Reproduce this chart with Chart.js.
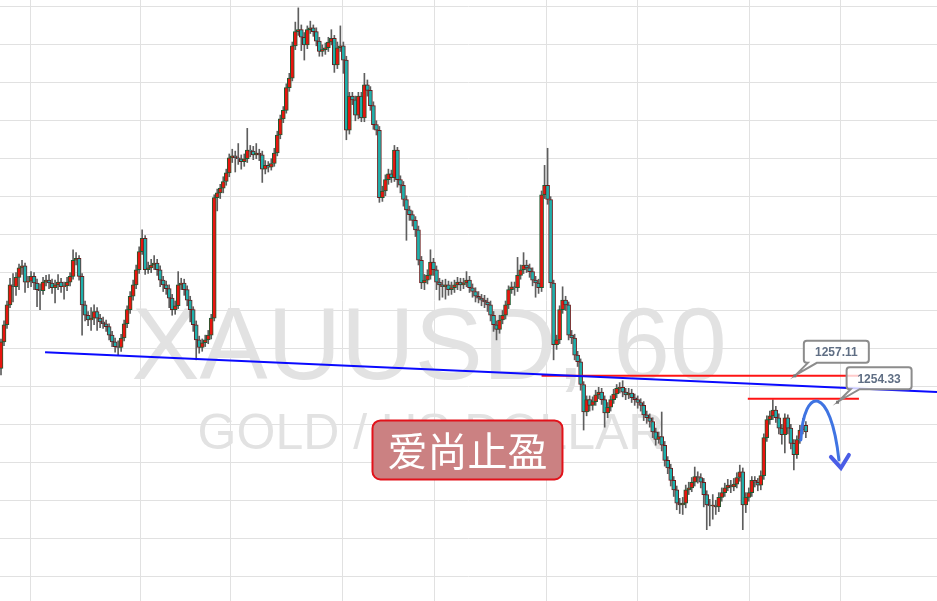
<!DOCTYPE html>
<html><head><meta charset="utf-8">
<script src="https://cdn.jsdelivr.net/npm/chart.js@4.4.1/dist/chart.umd.min.js"></script>
<style>html,body{margin:0;padding:0;background:#fff;}#c{display:block;}</style>
</head><body>
<canvas id="c" width="937" height="601"></canvas>
<script>
// XAUUSD 60-minute candles (price, USD)
const opens = [
1257.9,1260.7,1262.5,1264.6,1266.7,1266.5,1267.5,1268.5,1268.7,1267.0,
1267.1,1267.6,1266.9,1266.2,1266.1,1267.0,1267.2,1266.9,1266.4,1266.7,
1267.0,1266.5,1266.6,1267.0,1267.6,1269.3,1269.5,1267.6,1264.6,1263.5,
1263.0,1263.2,1263.9,1263.2,1262.8,1262.6,1262.3,1261.4,1260.7,1260.2,
1260.1,1261.1,1262.6,1264.1,1265.5,1266.7,1268.3,1270.2,1271.6,1268.3,
1268.5,1268.8,1269.0,1268.3,1267.2,1266.7,1266.3,1265.3,1264.1,1264.5,
1266.7,1266.9,1266.2,1265.1,1264.1,1262.5,1260.9,1260.1,1260.6,1260.9,
1261.4,1263.2,1275.9,1276.4,1276.9,1277.6,1278.5,1280.1,1280.3,1280.1,
1280.0,1279.7,1280.0,1280.9,1280.8,1280.4,1280.6,1280.4,1278.9,1279.3,
1279.1,1279.5,1280.6,1282.5,1284.2,1285.1,1287.5,1288.5,1291.9,1293.4,
1293.6,1292.8,1292.0,1293.6,1293.8,1293.4,1292.4,1291.3,1291.5,1291.7,
1292.3,1292.7,1289.9,1291.7,1291.9,1290.4,1283.0,1286.6,1286.2,1284.6,
1286.6,1284.3,1287.8,1287.2,1285.6,1283.6,1283.0,1275.9,1276.6,1277.8,
1278.4,1278.0,1280.9,1277.8,1277.2,1275.7,1274.6,1274.1,1273.5,1272.5,
1269.3,1266.9,1267.2,1267.7,1269.1,1268.3,1267.0,1266.7,1266.5,1266.7,
1266.2,1266.4,1266.7,1267.0,1266.7,1266.9,1267.2,1266.4,1266.0,1265.5,
1265.3,1265.1,1264.9,1264.6,1263.5,1262.5,1262.0,1263.0,1263.5,1264.6,
1266.2,1266.5,1266.4,1267.7,1268.3,1268.8,1268.5,1268.1,1267.2,1266.9,
1266.4,1276.2,1277.2,1275.7,1266.9,1260.4,1260.9,1264.1,1265.1,1264.6,
1261.4,1261.1,1259.3,1258.6,1256.2,1253.3,1254.6,1254.0,1254.4,1255.1,
1255.4,1254.6,1253.2,1253.8,1254.6,1255.2,1255.8,1255.9,1255.4,1255.1,
1255.3,1254.8,1254.6,1254.3,1254.0,1253.0,1252.7,1252.3,1251.2,1250.4,
1250.7,1249.8,1248.2,1247.4,1246.1,1245.1,1243.7,1243.5,1243.7,1245.1,
1245.3,1245.9,1246.5,1246.4,1245.9,1244.6,1243.5,1243.4,1243.5,1243.3,
1244.3,1244.8,1245.3,1245.6,1245.4,1245.7,1246.4,1247.0,1243.5,1244.3,
1244.8,1246.1,1245.9,1245.6,1246.6,1250.6,1252.5,1252.9,1253.5,1252.7,
1251.6,1250.9,1252.7,1251.6,1250.0,1248.8,1250.4,1251.4,1251.9];
const highs = [
1261.0,1262.9,1265.0,1267.4,1267.9,1268.0,1268.9,1269.3,1269.0,1267.6,
1268.1,1268.0,1267.3,1266.8,1267.5,1267.7,1267.8,1267.3,1267.2,1267.8,
1267.4,1267.0,1267.5,1268.0,1270.4,1270.1,1269.8,1267.9,1265.0,1263.9,
1264.3,1264.6,1264.3,1263.6,1263.3,1263.0,1262.6,1261.8,1261.1,1260.8,
1261.5,1263.0,1264.5,1266.0,1267.2,1268.8,1270.7,1272.5,1271.9,1269.1,
1269.4,1269.8,1269.4,1268.7,1267.6,1267.1,1266.7,1265.7,1265.0,1268.1,
1267.4,1267.3,1266.6,1265.5,1264.4,1262.9,1261.3,1261.0,1261.4,1261.9,
1263.6,1276.2,1276.8,1277.3,1278.1,1278.9,1280.5,1281.0,1280.8,1281.6,
1280.4,1280.5,1283.2,1281.4,1281.3,1281.6,1281.0,1280.8,1279.8,1279.7,
1280.0,1281.1,1282.9,1284.6,1285.5,1287.9,1289.0,1292.3,1294.4,1295.9,
1294.1,1293.3,1294.0,1294.5,1294.1,1293.8,1292.8,1292.0,1292.2,1292.8,
1293.6,1293.0,1292.3,1294.0,1292.3,1290.8,1287.0,1287.0,1286.6,1287.0,
1287.0,1289.0,1288.3,1287.6,1286.0,1284.0,1283.4,1277.1,1278.3,1278.9,
1278.8,1281.4,1281.2,1278.2,1277.6,1276.1,1275.0,1274.5,1273.9,1272.9,
1269.7,1267.8,1268.3,1270.4,1269.5,1268.7,1267.4,1267.2,1267.3,1267.1,
1267.0,1267.2,1267.5,1267.4,1267.4,1268.1,1267.6,1266.8,1266.4,1266.0,
1265.7,1265.6,1265.3,1265.0,1263.9,1262.9,1263.5,1264.0,1265.0,1266.6,
1267.0,1267.0,1269.6,1268.8,1270.1,1269.3,1268.9,1268.5,1267.6,1267.3,
1276.6,1279.3,1281.1,1276.0,1267.2,1261.4,1264.5,1266.5,1265.5,1264.9,
1261.9,1261.5,1259.7,1258.9,1256.5,1255.0,1255.0,1254.9,1255.6,1255.9,
1255.8,1255.0,1254.3,1255.0,1255.7,1256.2,1256.4,1256.6,1255.8,1255.8,
1255.7,1255.2,1255.0,1254.7,1254.4,1253.4,1253.1,1252.7,1251.6,1251.2,
1253.3,1250.2,1248.6,1247.8,1246.5,1245.5,1244.2,1244.3,1245.6,1245.9,
1246.4,1247.5,1247.0,1246.8,1246.3,1245.0,1244.1,1244.6,1244.0,1244.8,
1245.3,1245.8,1246.2,1246.1,1246.3,1246.9,1247.7,1247.4,1244.8,1245.3,
1246.5,1246.5,1246.3,1247.1,1251.0,1252.9,1253.4,1254.6,1253.9,1253.1,
1252.0,1253.1,1253.0,1252.0,1250.4,1250.8,1251.9,1252.6,1252.3];
const lows = [
1257.2,1260.3,1262.1,1264.3,1264.9,1265.6,1266.2,1267.8,1265.9,1266.4,
1266.5,1266.2,1264.4,1264.1,1265.7,1266.6,1266.3,1265.8,1264.8,1266.2,
1265.9,1265.2,1266.1,1266.6,1267.3,1268.8,1267.2,1261.4,1262.9,1262.4,
1261.9,1262.5,1261.9,1262.2,1262.1,1261.8,1260.9,1260.2,1259.6,1259.3,
1259.7,1260.8,1262.2,1263.7,1265.1,1266.3,1267.9,1269.9,1267.8,1267.9,
1268.0,1268.3,1267.7,1266.5,1266.0,1265.7,1264.3,1263.5,1263.6,1264.2,
1266.2,1265.6,1264.5,1262.8,1261.8,1258.8,1259.5,1259.7,1260.2,1260.5,
1261.0,1262.9,1274.5,1275.8,1276.4,1277.2,1278.1,1279.6,1278.6,1279.4,
1278.9,1279.2,1279.6,1280.2,1279.9,1280.0,1279.8,1277.5,1278.4,1278.6,
1278.8,1279.2,1280.3,1282.1,1283.8,1284.8,1287.1,1288.2,1291.5,1293.0,
1291.4,1290.4,1291.6,1293.2,1292.9,1291.9,1290.8,1290.8,1291.0,1291.3,
1292.0,1289.1,1289.5,1291.3,1289.0,1282.0,1282.6,1285.7,1284.0,1284.2,
1283.9,1283.9,1286.6,1285.1,1283.1,1282.5,1275.4,1275.5,1276.1,1277.3,
1277.5,1277.6,1277.0,1276.4,1275.0,1271.4,1273.5,1272.9,1271.8,1268.8,
1266.3,1266.2,1266.8,1267.3,1267.7,1266.2,1265.1,1265.4,1265.2,1265.6,
1265.7,1265.9,1266.2,1266.1,1266.3,1266.5,1265.9,1265.4,1264.9,1264.8,
1264.5,1264.3,1263.9,1262.9,1261.8,1260.9,1261.6,1262.6,1263.1,1264.2,
1265.8,1265.6,1266.0,1267.3,1267.9,1268.0,1267.5,1266.6,1265.4,1265.8,
1266.0,1275.8,1275.2,1266.4,1258.8,1259.9,1260.5,1263.7,1264.0,1260.9,
1260.5,1258.8,1258.1,1255.6,1251.4,1252.9,1253.4,1253.5,1254.0,1254.7,
1254.1,1251.7,1252.7,1253.4,1254.2,1254.8,1255.3,1254.9,1254.6,1254.7,
1254.3,1254.0,1253.7,1253.4,1252.4,1252.1,1251.7,1250.6,1249.8,1250.0,
1249.2,1247.6,1246.8,1245.5,1244.4,1243.0,1242.6,1242.5,1243.2,1244.6,
1244.9,1245.5,1245.8,1245.3,1243.3,1240.9,1241.3,1242.0,1242.5,1242.8,
1243.9,1244.4,1245.0,1244.8,1245.0,1245.3,1246.0,1240.9,1242.7,1243.9,
1244.4,1245.4,1245.0,1245.1,1246.2,1250.2,1252.0,1252.5,1252.2,1251.0,
1249.9,1249.0,1251.0,1249.4,1247.2,1248.4,1250.0,1251.0,1250.6];
const closes = [
1260.7,1262.5,1264.6,1266.7,1266.5,1267.5,1268.5,1268.7,1267.0,1267.1,
1267.6,1266.9,1266.2,1266.1,1267.0,1267.2,1266.9,1266.4,1266.7,1267.0,
1266.5,1266.6,1267.0,1267.6,1269.3,1269.5,1267.6,1264.6,1263.5,1263.0,
1263.2,1263.9,1263.2,1262.8,1262.6,1262.3,1261.4,1260.7,1260.2,1260.1,
1261.1,1262.6,1264.1,1265.5,1266.7,1268.3,1270.2,1271.6,1268.3,1268.5,
1268.8,1269.0,1268.3,1267.2,1266.7,1266.3,1265.3,1264.1,1264.5,1266.7,
1266.9,1266.2,1265.1,1264.1,1262.5,1260.9,1260.1,1260.6,1260.9,1261.4,
1263.2,1275.9,1276.4,1276.9,1277.6,1278.5,1280.1,1280.3,1280.1,1280.0,
1279.7,1280.0,1280.9,1280.8,1280.4,1280.6,1280.4,1278.9,1279.3,1279.1,
1279.5,1280.6,1282.5,1284.2,1285.1,1287.5,1288.5,1291.9,1293.4,1293.6,
1292.8,1292.0,1293.6,1293.8,1293.4,1292.4,1291.3,1291.5,1291.7,1292.3,
1292.7,1289.9,1291.7,1291.9,1290.4,1283.0,1286.6,1286.2,1284.6,1286.6,
1284.3,1287.8,1287.2,1285.6,1283.6,1283.0,1275.9,1276.6,1277.8,1278.4,
1278.0,1280.9,1277.8,1277.2,1275.7,1274.6,1274.1,1273.5,1272.5,1269.3,
1266.9,1267.2,1267.7,1269.1,1268.3,1267.0,1266.7,1266.5,1266.7,1266.2,
1266.4,1266.7,1267.0,1266.7,1266.9,1267.2,1266.4,1266.0,1265.5,1265.3,
1265.1,1264.9,1264.6,1263.5,1262.5,1262.0,1263.0,1263.5,1264.6,1266.2,
1266.5,1266.4,1267.7,1268.3,1268.8,1268.5,1268.1,1267.2,1266.9,1266.4,
1276.2,1277.2,1275.7,1266.9,1260.4,1260.9,1264.1,1265.1,1264.6,1261.4,
1261.1,1259.3,1258.6,1256.2,1253.3,1254.6,1254.0,1254.4,1255.1,1255.4,
1254.6,1253.2,1253.8,1254.6,1255.2,1255.8,1255.9,1255.4,1255.1,1255.3,
1254.8,1254.6,1254.3,1254.0,1253.0,1252.7,1252.3,1251.2,1250.4,1250.7,
1249.8,1248.2,1247.4,1246.1,1245.1,1243.7,1243.5,1243.7,1245.1,1245.3,
1245.9,1246.5,1246.4,1245.9,1244.6,1243.5,1243.4,1243.5,1243.3,1244.3,
1244.8,1245.3,1245.6,1245.4,1245.7,1246.4,1247.0,1243.5,1244.3,1244.8,
1246.1,1245.9,1245.6,1246.6,1250.6,1252.5,1252.9,1253.5,1252.7,1251.6,
1250.9,1252.7,1251.6,1250.0,1248.8,1250.4,1251.4,1251.9,1251.2];

// time grid positions (bar index) and price grid levels
const timeTicks = [9.67, 46.33, 76.33, 113.67, 144.33, 181.67, 212, 249.33, 279.67];
const priceTicks = [1236,1240,1244,1248,1252,1256,1260,1264,1268,1272,1276,1280,1284,1288,1292,1296];

// drawings
const trendLine = [{x:14.67, y:1259.6}, {x:311.67, y:1255.4}];
const level1 = [{x:180, y:1257.11}, {x:285.67, y:1257.11}];
const level2 = [{x:248.67, y:1254.7}, {x:285.67, y:1254.7}];
const label1 = {x:264.33, y:1257.11, text:'1257.11'};
const label2 = {x:278.57, y:1254.33, text:'1254.33'};
const arcPath = [{x:266.33,y:1250.35},{x:267.33,y:1256.15},{x:276.33,y:1256.15},{x:279,y:1248.25}];
const badge = {x:155.33, y:1249.3, text:'爱尚止盈'};
const watermarkTitle = 'XAUUSD, 60';
const watermarkSub = 'GOLD / US DOLLAR';

const idx = opens.map((_, i) => i);
const isUp = i => closes[i] >= opens[i];

const overlay = {
  id: 'overlay',
  beforeDatasetsDraw(chart) {
    const c = chart.ctx;
    c.save();
    c.fillStyle = '#e2e2e2';
    c.textAlign = 'center';
    c.textBaseline = 'alphabetic';
    c.font = '102px "Liberation Sans", Arial, sans-serif';
    c.fillText(watermarkTitle, 429, 379);
    c.font = '50px "Liberation Sans", Arial, sans-serif';
    c.fillText(watermarkSub, 431, 449);
    c.restore();
  },
  afterDatasetsDraw(chart) {
    const c = chart.ctx, xs = chart.scales.x, ys = chart.scales.y;
    const P = p => [xs.getPixelForValue(p.x), ys.getPixelForValue(p.y)];
    c.save();
    // badge
    const [bx, by] = P(badge);
    const bw = 190, bh = 59;
    c.beginPath();
    c.roundRect(bx - bw/2, by - bh/2, bw, bh, 8);
    c.fillStyle = '#cb8182';
    c.fill();
    c.lineWidth = 2;
    c.strokeStyle = '#e2121a';
    c.stroke();
    c.fillStyle = '#ffffff';
    c.font = '40px "Noto Sans CJK SC", sans-serif';
    c.textAlign = 'center';
    c.textBaseline = 'middle';
    c.fillText(badge.text, bx, by + 1);

    // price labels
    function bubble(lb) {
      const [ax, ay] = P(lb);
      const x0 = ax + 9, y0 = ay - 35, w = 65, h = 22, r = 3;
      c.beginPath();
      c.moveTo(x0 + r, y0);
      c.lineTo(x0 + w - r, y0); c.quadraticCurveTo(x0 + w, y0, x0 + w, y0 + r);
      c.lineTo(x0 + w, y0 + h - r); c.quadraticCurveTo(x0 + w, y0 + h, x0 + w - r, y0 + h);
      c.lineTo(x0 + 13, y0 + h); c.lineTo(ax + 1, ay - 1); c.lineTo(x0 + 4, y0 + h);
      c.lineTo(x0 + r, y0 + h); c.quadraticCurveTo(x0, y0 + h, x0, y0 + h - r);
      c.lineTo(x0, y0 + r); c.quadraticCurveTo(x0, y0, x0 + r, y0);
      c.closePath();
      c.fillStyle = 'rgba(255,255,255,0.78)';
      c.fill();
      c.strokeStyle = '#8c8c8c';
      c.lineWidth = 2;
      c.stroke();
      c.fillStyle = '#5f6e84';
      c.font = 'bold 12px "Liberation Sans", Arial, sans-serif';
      c.textAlign = 'center';
      c.textBaseline = 'middle';
      c.fillText(lb.text, x0 + w/2, y0 + h/2 + 1);
      c.fillStyle = '#777';
      c.fillRect(ax - 1.5, ay - 1.5, 3, 3);
    }
    bubble(label1);
    bubble(label2);

    // blue arc arrow
    const [s, c1, c2, e] = arcPath.map(P);
    c.strokeStyle = '#3f74e2';
    c.lineWidth = 3;
    c.lineCap = 'round';
    c.beginPath();
    c.moveTo(s[0], s[1]);
    c.bezierCurveTo(c1[0], c1[1], c2[0], c2[1], e[0], e[1]);
    c.stroke();
    c.strokeStyle = '#4a5de6';
    c.lineWidth = 4;
    c.lineJoin = 'miter';
    c.beginPath();
    c.moveTo(e[0] - 8, e[1] - 3);
    c.lineTo(e[0] + 2, e[1] + 8);
    c.lineTo(e[0] + 10, e[1] - 5);
    c.stroke();
    c.restore();
  }
};

const gridX = {color: '#e1e1e1', lineWidth: 1, drawTicks: false, offset: false};
const gridY = {color: '#e1e1e1', lineWidth: 1, drawTicks: false};

new Chart(document.getElementById('c'), {
  type: 'bar',
  data: {
    datasets: [
      {
        type: 'line', label: 'trend', data: trendLine, borderColor: '#0a0aff', borderWidth: 2,
        pointRadius: 0, tension: 0, order: 1
      },
      {
        type: 'line', label: 'level1', data: level1, borderColor: '#ff1414', borderWidth: 2,
        pointRadius: 0, tension: 0, order: 1
      },
      {
        type: 'line', label: 'level2', data: level2, borderColor: '#ff1414', borderWidth: 2,
        pointRadius: 0, tension: 0, order: 1
      },
      {
        label: 'body', data: idx.map(i => ({x: i, y: [opens[i], closes[i]]})),
        backgroundColor: idx.map(i => isUp(i) ? '#e8150f' : '#1fb0ac'),
        borderColor: idx.map(i => isUp(i) ? '#1f5a32' : '#6a1c1c'),
        borderWidth: 1, borderSkipped: false, barThickness: 4, grouped: false, order: 2
      },
      {
        label: 'wick', data: idx.map(i => ({x: i, y: [lows[i], highs[i]]})),
        backgroundColor: '#5e5e5e', borderWidth: 0, barThickness: 1, grouped: false, order: 3
      }
    ]
  },
  options: {
    responsive: false, animation: false, devicePixelRatio: 1,
    layout: {padding: 0},
    plugins: {legend: {display: false}, tooltip: {enabled: false}},
    scales: {
      x: {
        type: 'linear', min: -0.333, max: 311.667, offset: false,
        ticks: {display: false}, grid: gridX, border: {display: false},
        afterBuildTicks: s => { s.ticks = timeTicks.map(v => ({value: v})); }
      },
      y: {
        type: 'linear', min: 1233.38, max: 1296.73,
        ticks: {display: false}, grid: gridY, border: {display: false},
        afterBuildTicks: s => { s.ticks = priceTicks.map(v => ({value: v})); }
      }
    }
  },
  plugins: [overlay]
});
</script>
</body></html>
